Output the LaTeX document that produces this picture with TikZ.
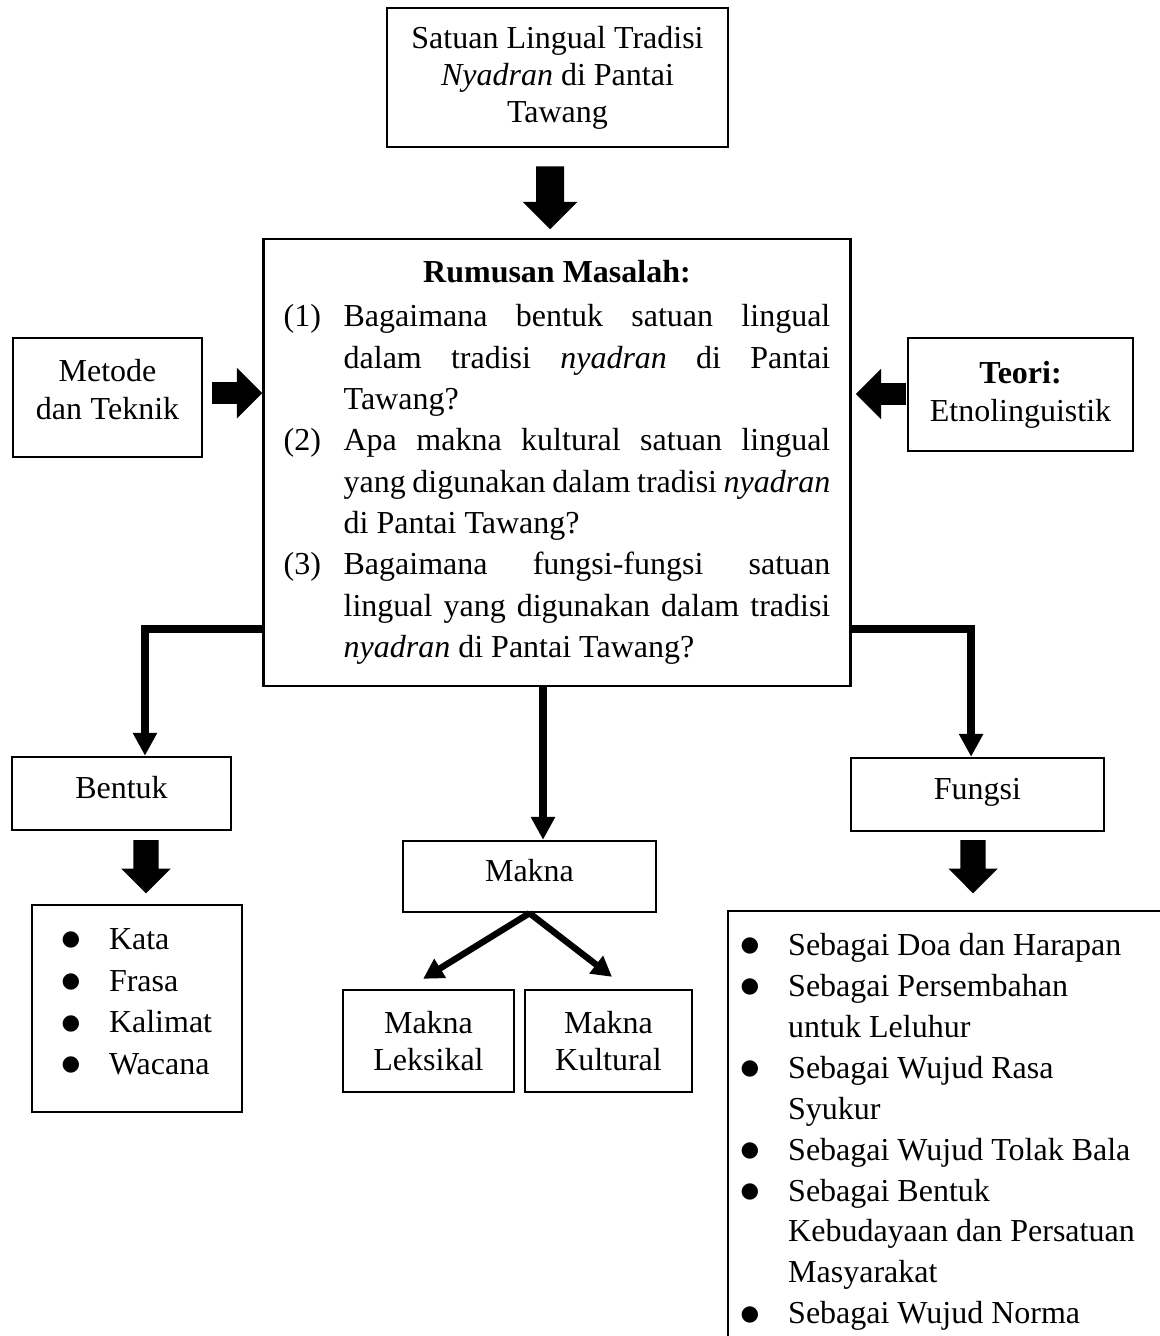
\documentclass[tikz,border=0pt]{standalone}
\usepackage{fontspec}
\setmainfont{Liberation Serif}
\newfontfamily\simbol{DejaVu Sans}
\usetikzlibrary{arrows.meta,shapes.arrows}

\tolerance=10000
\hbadness=10000
\hyphenpenalty=10000
\exhyphenpenalty=10000
\setlength{\parindent}{0pt}

\newcommand{\butir}[1]{\par\noindent\hangindent=22.5pt\hangafter=1\makebox[22.5pt][l]{#1}}
\newcommand{\poin}[1]{\noindent\hangindent=17.8pt\hangafter=1\makebox[17.8pt][l]{\raisebox{1.4pt}{\simbol\fontsize{8}{8}\selectfont ●}}#1\par}

\begin{document}
\begin{tikzpicture}[
    x=0.375pt, y=-0.375pt,
    kotak/.style = {rectangle, draw, line width=0.9pt, inner sep=0pt, align=center, font=\fontsize{12}{14.2}\selectfont},
    satubaris/.style = {text height=9pt, text depth=5.4pt},
    panahblok/.style = {single arrow, fill=black, draw=none, anchor=tip},
    konektor/.style = {line width=3pt, -{Triangle[length=8.6pt,width=8.6pt]}},
    cabang/.style = {line width=2.4pt, -{Triangle[length=7.5pt,width=8pt]}}
]
    \useasboundingbox (0,0) rectangle (1160,1336);
    \clip (0,0) rectangle (1160,1336);

    \node[kotak, minimum width=127.9pt, minimum height=52.1pt, font=\fontsize{12}{13.9}\selectfont] (judul) at (557.5,77.5)
        {Satuan Lingual Tradisi\\\textit{Nyadran} di Pantai\\Tawang};
    \node[panahblok, shape border rotate=270, minimum height=23.6pt, inner sep=5.05pt, single arrow head extend=5.06pt] (panahatas) at (550,230) {};

    \node[kotak, text width=205pt, inner xsep=7.5pt, align=justify, minimum height=167.6pt, font=\fontsize{12}{15.5}\selectfont] (rumusan) at (557,462.5) {%
        \centerline{\textbf{Rumusan Masalah:}}\vspace{1pt}
        \butir{(1)}Bagaimana bentuk satuan lingual\linebreak dalam tradisi \textit{nyadran} di Pantai\linebreak Tawang?
        \butir{(2)}Apa makna kultural satuan lingual\linebreak yang digunakan dalam tradisi \textit{nyadran}\linebreak di Pantai Tawang?
        \butir{(3)}Bagaimana fungsi-fungsi satuan\linebreak lingual yang digunakan dalam tradisi\linebreak \textit{nyadran} di Pantai Tawang?\par};

    \node[kotak, text width=62pt, minimum width=70.9pt, minimum height=44.6pt] (metode) at (107.5,397.5) {\spaceskip=0pt Metode\\dan Teknik\par\kern6pt};
    \node[panahblok, minimum height=18.75pt, inner sep=3.9pt, single arrow head extend=5.4pt] (panahkiri) at (263,393) {};

    \node[kotak, minimum width=84.4pt, minimum height=42.4pt] (teori) at (1020.5,394.5) {\textbf{Teori:}\\Etnolinguistik};
    \node[panahblok, shape border rotate=180, minimum height=18.75pt, inner sep=3.9pt, single arrow head extend=5.4pt] (panahkanan) at (855,394) {};

    \node[kotak, satubaris, minimum width=82.1pt, minimum height=27.4pt] (bentuk) at (121.5,793.5) {Bentuk};
    \node[kotak, satubaris, minimum width=94.9pt, minimum height=27.4pt] (fungsi) at (977.5,794.5) {Fungsi};
    \node[kotak, satubaris, minimum width=94.9pt, minimum height=26.6pt] (makna) at (529.5,876.5) {Makna};

    \draw[konektor] ([yshift=21.75pt]rumusan.south west) -| ([xshift=8.8pt]bentuk.north);
    \draw[konektor] ([yshift=21.75pt]rumusan.south east) -| ([xshift=-2.4pt]fungsi.north);
    \draw[konektor] ([xshift=-5.25pt]rumusan.south) -- ([xshift=-5.25pt]rumusan.south |- makna.north);

    \node[panahblok, shape border rotate=270, minimum height=19.9pt, inner sep=4.5pt, single arrow head extend=4.5pt] (panahbentuk) at (146,894) {};
    \node[panahblok, shape border rotate=270, minimum height=19.9pt, inner sep=4.5pt, single arrow head extend=4.5pt] (panahfungsi) at (973,894) {};

    \node[kotak, minimum width=64.1pt, minimum height=38.25pt, font=\fontsize{12}{13.6}\selectfont] (leksikal) at (428.5,1041) {Makna\\Leksikal};
    \node[kotak, minimum width=62.6pt, minimum height=38.25pt, font=\fontsize{12}{13.6}\selectfont] (kultural) at (608.5,1041) {Makna\\Kultural};
    \draw[cabang] (makna.south) -- ([xshift=-2pt,yshift=3.75pt]leksikal.north);
    \draw[cabang] (makna.south) -- ([xshift=1.3pt,yshift=4.5pt]kultural.north);

    \node[kotak, text width=56.6pt, inner xsep=11pt, align=left, minimum height=77.6pt, font=\fontsize{12}{15.6}\selectfont] (daftarbentuk) at (137,1008.5) {%
        \spaceskip=0pt \xspaceskip=0pt
        \poin{Kata}
        \poin{Frasa}
        \poin{Kalimat}
        \poin{Wacana}\kern5pt};

    \node[kotak, anchor=north west, text width=165pt, inner xsep=4.7pt, inner ysep=8.25pt, align=left, font=\fontsize{12}{15.35}\selectfont] (daftarfungsi) at (727,910) {%
        \spaceskip=0pt \xspaceskip=0pt
        \poin{Sebagai Doa dan Harapan}
        \poin{Sebagai Persembahan\newline untuk Leluhur}
        \poin{Sebagai Wujud Rasa\newline Syukur}
        \poin{Sebagai Wujud Tolak Bala}
        \poin{Sebagai Bentuk\newline Kebudayaan dan Persatuan\newline Masyarakat}
        \poin{Sebagai Wujud Norma}};
\end{tikzpicture}
\end{document}
